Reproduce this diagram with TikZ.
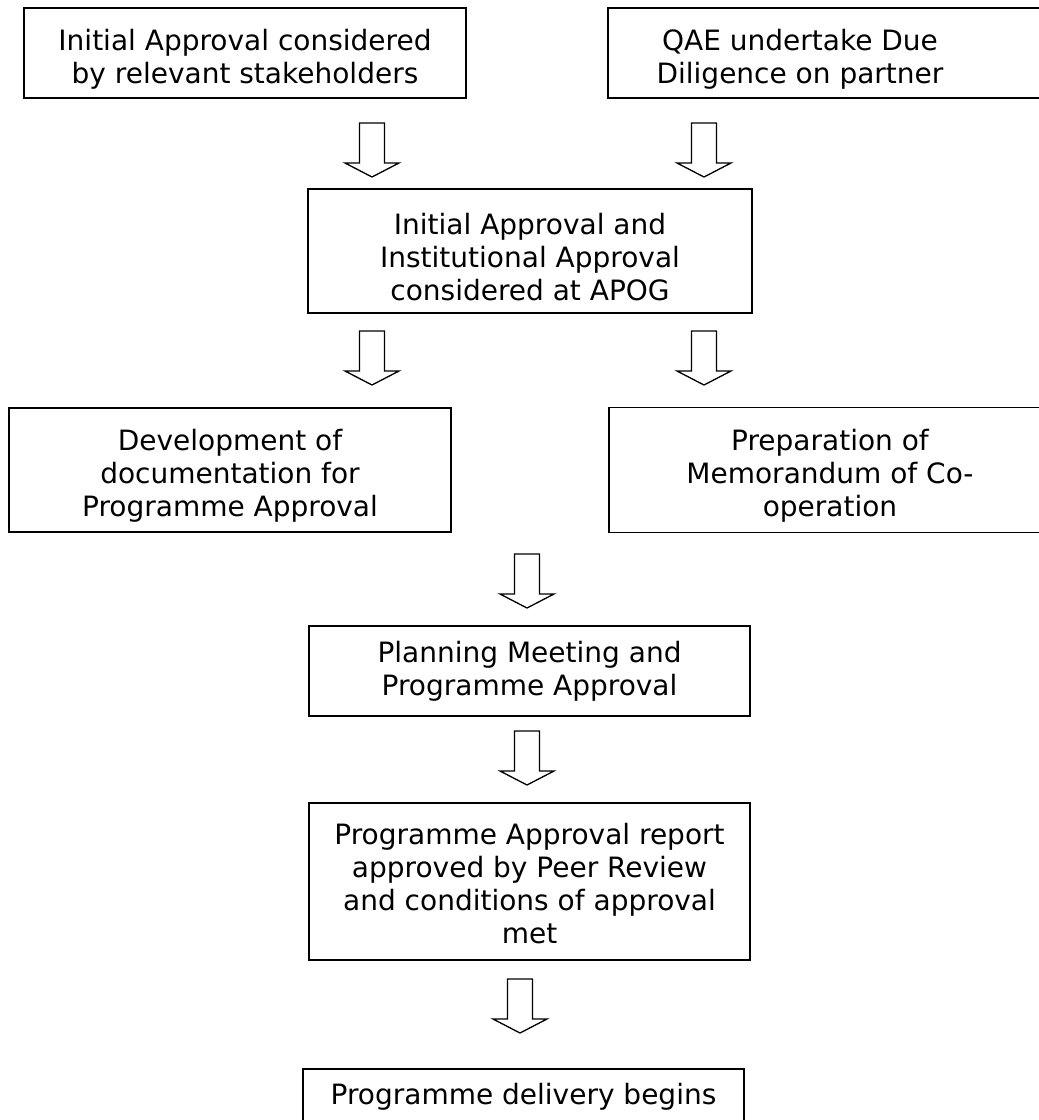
\documentclass[tikz,border=0pt]{standalone}
\usepackage{fontspec}
\setmainfont{DejaVu Sans}
\begin{document}
\begin{tikzpicture}[x=1pt,y=-1pt,
  boxtxt/.style={align=center, font=\fontsize{28}{33}\selectfont, inner sep=0pt},
  box/.style={draw, line width=1.7pt, inner sep=0pt},
  barrow/.style={draw, line width=1.3pt, fill=white, line join=miter},
  pics/blockarrow/.style={code={\draw[barrow] (-12.5,0) -- (12.5,0) -- (12.5,40) -- (27,40) -- (0,54) -- (-27,40) -- (-12.5,40) -- cycle;}}
]
\useasboundingbox (0,0) rectangle (1039,1120);
\clip (0,0) rectangle (1039,1120);
\fill[white] (0,0) rectangle (1039,1120);

% boxes
\node[box, minimum width=442, minimum height=90] (b1) at (245,53) {};
\node[boxtxt] (t1) at ([yshift=-6pt]b1.center)
  {Initial Approval considered\\by relevant stakeholders};

\node[box, minimum width=500, minimum height=90] (b2) at (858,53) {};
\node[boxtxt] (t2) at (800,59)
  {QAE undertake Due\\Diligence on partner};

\node[box, minimum width=444, minimum height=124] (b3) at (530,251) {};
\node[boxtxt] (t3) at ([yshift=-6pt]b3.center)
  {Initial Approval and\\Institutional Approval\\considered at APOG};

\node[box, minimum width=442, minimum height=124] (b4) at (230,470) {};
\node[boxtxt] (t4) at ([yshift=-6pt]b4.center)
  {Development of\\documentation for\\Programme Approval};

\node[box, minimum width=500, minimum height=125] (b5) at (859,470) {};
\node[boxtxt] (t5) at (830,476)
  {Preparation of\\Memorandum of Co-\\operation};

\node[box, minimum width=441, minimum height=90] (b6) at (529.5,671) {};
\node[boxtxt] (t6) at (b6.center)
  {Planning Meeting and\\Programme Approval};

\node[box, minimum width=441, minimum height=157] (b7) at (529.5,881.5) {};
\node[boxtxt] (t7) at ([yshift=-2pt]b7.center)
  {Programme Approval report\\approved by Peer Review\\and conditions of approval\\met};

\node[box, minimum width=441, minimum height=60] (b8) at (523.5,1099) {};
\node[boxtxt] (t8) at (523.5,1097) {Programme delivery begins};

% block arrows
\pic (a1) at (372,123) {blockarrow};
\pic (a2) at (704,123) {blockarrow};
\pic (a3) at (372,331) {blockarrow};
\pic (a4) at (704,331) {blockarrow};
\pic (a5) at (527,554) {blockarrow};
\pic (a6) at (527,731) {blockarrow};
\pic (a7) at (520,979) {blockarrow};
\end{tikzpicture}
\end{document}
